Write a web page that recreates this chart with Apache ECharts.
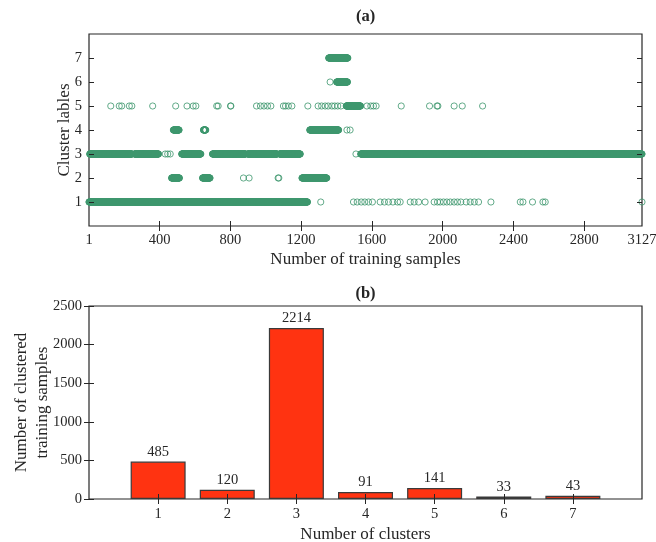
<!DOCTYPE html>
<html>
<head>
<meta charset="utf-8">
<title>Cluster labels of training samples</title>
<script src="https://cdn.jsdelivr.net/npm/echarts@6/dist/echarts.min.js"></script>
<style>
  html, body { margin: 0; padding: 0; background: #fff; }
  #chart { width: 656px; height: 542px; }
</style>
</head>
<body>
<div id="chart"></div>
<script>
// ---- (a) cluster label of every training sample --------------------------
// Each entry is a single sample index or an inclusive [from, to] run of indices.
const cluster1 = [[1, 1236], 1311, 1496, 1517, 1540, 1560, 1581, 1603, 1647, 1671,
  1694, 1719, 1745, 1760, 1817, 1839, 1864, 1901, 1952, 1971, 1986, 2005, 2024,
  2043, 2065, 2084, 2103, 2133, 2156, 2179, 2203, 2273, 2439, 2454, 2508, 2567,
  2580, 3127];
const cluster2 = [[468, 512], [643, 685], 874, 906, 1070, 1074, [1205, 1345]];
const cluster3 = [[5, 244], [258, 394], 432, 446, 460, [525, 633], [699, 886],
  [898, 1064], [1078, 1195], 1510, [1537, 3127]];
const cluster4 = [[478, 510], [648, 661], [1249, 1412], 1459, 1477];
const cluster5 = [124, 172, 186, 229, 243, 361, 491, 555, 590, 605, 723, 731, 801,
  803, 948, 970, 990, 1010, 1029, 1100, 1112, 1128, 1148, 1238, 1296, 1316, 1336,
  1353, 1374, 1390, 1407, 1425, [1455, 1536], 1572, 1594, 1609, 1624, 1766, 1926,
  1968, 1973, 2065, 2111, 2226];
const cluster6 = [1364, [1401, 1462]];
const cluster7 = [[1356, 1464]];

const sampleCount = 3127;
const sampleTicks = [400, 800, 1200, 1600, 2000, 2400, 2800];
const sampleTickLabels = [1, 400, 800, 1200, 1600, 2000, 2400, 2800, 3127];
const labelTicks = [1, 2, 3, 4, 5, 6, 7];

// ---- (b) number of samples in each cluster -------------------------------
const clusterIds = [1, 2, 3, 4, 5, 6, 7];
const clusterCounts = [485, 120, 2214, 91, 141, 33, 43];

// ---------------------------------------------------------------------------
const FONT = '"Liberation Serif", "DejaVu Serif", serif';
const INK = '#262626';
const RING = '#3d976d';
const BAR = '#ff3311';

function expand(list) {
  const out = [];
  list.forEach(function (e) {
    if (Array.isArray(e)) { for (let i = e[0]; i <= e[1]; i++) out.push(i); }
    else out.push(e);
  });
  return out;
}

const plain = function (v) { return String(v); };

const labelLists = [cluster1, cluster2, cluster3, cluster4, cluster5, cluster6, cluster7];
const scatterSeries = labelLists.map(function (list, k) {
  return {
    type: 'scatter',
    name: 'cluster ' + (k + 1),
    xAxisIndex: 0, yAxisIndex: 0,
    data: expand(list).map(function (i) { return [i, k + 1]; }),
    symbol: 'circle',
    symbolSize: 6.2,
    clip: false,
    large: false,
    progressive: 0,
    itemStyle: { color: 'rgba(255,255,255,0)', borderColor: RING, borderWidth: 1 },
    z: 2
  };
});

const tickStyle = { show: true, inside: true, length: 5, lineStyle: { color: INK, width: 1 } };
const labelStyle = { color: INK, fontFamily: FONT, fontSize: 14.5, formatter: plain };
const nameStyle = { color: INK, fontFamily: FONT, fontSize: 17 };
const hidden = { axisLine: { show: false }, splitLine: { show: false }, axisLabel: { show: false } };

const option = {
  animation: false,
  backgroundColor: '#fff',
  grid: [
    { left: 89, right: 14, top: 34, height: 192, show: true, borderColor: INK, borderWidth: 1.2,
      backgroundColor: 'transparent', containLabel: false, outerBoundsMode: 'none' },
    { left: 89, right: 14, top: 306, height: 193, show: true, borderColor: INK, borderWidth: 1.2,
      backgroundColor: 'transparent', containLabel: false, outerBoundsMode: 'none' }
  ],
  graphic: [
    { type: 'text', x: 365.5, y: 17, style: { text: '(a)', fontFamily: FONT, fontSize: 16.5, fontWeight: 'bold', fill: INK, align: 'center', verticalAlign: 'middle' } },
    { type: 'text', x: 365.5, y: 294, style: { text: '(b)', fontFamily: FONT, fontSize: 16.5, fontWeight: 'bold', fill: INK, align: 'center', verticalAlign: 'middle' } }
  ],
  xAxis: [
    {
      gridIndex: 0, type: 'value', min: 1, max: sampleCount, position: 'bottom', z: 10,
      axisLine: { show: false }, splitLine: { show: false },
      axisTick: Object.assign({}, tickStyle, { customValues: sampleTicks }),
      axisLabel: Object.assign({}, labelStyle, { customValues: sampleTickLabels, margin: 7, showMinLabel: true, showMaxLabel: true }),
      name: 'Number of training samples', nameLocation: 'middle', nameGap: 25, nameMoveOverlap: false,
      nameTextStyle: nameStyle
    },
    Object.assign({
      gridIndex: 0, type: 'value', min: 1, max: sampleCount, position: 'top', z: 10,
      axisTick: Object.assign({}, tickStyle, { customValues: sampleTicks })
    }, hidden),
    {
      gridIndex: 1, type: 'value', min: 0, max: 8, interval: 1, position: 'bottom', z: 10,
      axisLine: { show: false }, splitLine: { show: false },
      axisTick: Object.assign({}, tickStyle, { customValues: clusterIds }),
      axisLabel: Object.assign({}, labelStyle, { customValues: clusterIds, margin: 8 }),
      name: 'Number of clusters', nameLocation: 'middle', nameGap: 27, nameMoveOverlap: false,
      nameTextStyle: nameStyle
    },
    Object.assign({
      gridIndex: 1, type: 'value', min: 0, max: 8, interval: 1, position: 'top', z: 10,
      axisTick: Object.assign({}, tickStyle, { customValues: clusterIds })
    }, hidden)
  ],
  yAxis: [
    {
      gridIndex: 0, type: 'value', min: 0, max: 8, position: 'left', z: 10,
      axisLine: { show: false }, splitLine: { show: false },
      axisTick: Object.assign({}, tickStyle, { customValues: labelTicks }),
      axisLabel: Object.assign({}, labelStyle, { customValues: labelTicks, margin: 7 }),
      name: 'Cluster lables', nameLocation: 'middle', nameGap: 16, nameRotate: 90, nameMoveOverlap: false,
      nameTextStyle: nameStyle
    },
    Object.assign({
      gridIndex: 0, type: 'value', min: 0, max: 8, position: 'right', z: 10,
      axisTick: Object.assign({}, tickStyle, { customValues: labelTicks })
    }, hidden),
    {
      gridIndex: 1, type: 'value', min: 0, max: 2500, interval: 500, position: 'left', z: 10,
      axisLine: { show: false }, splitLine: { show: false },
      axisTick: tickStyle,
      axisLabel: Object.assign({}, labelStyle, { margin: 7 }),
      name: 'Number of clustered\ntraining samples', nameLocation: 'middle', nameGap: 36, nameRotate: 90,
      nameMoveOverlap: false,
      nameTextStyle: Object.assign({}, nameStyle, { lineHeight: 21 })
    },
    Object.assign({
      gridIndex: 1, type: 'value', min: 0, max: 2500, interval: 500, position: 'right', z: 10,
      axisTick: tickStyle
    }, hidden)
  ],
  series: scatterSeries.concat([
    {
      type: 'bar',
      name: 'clustered samples',
      xAxisIndex: 2, yAxisIndex: 2,
      data: clusterIds.map(function (c, i) { return [c, clusterCounts[i]]; }),
      barWidth: 55,
      itemStyle: { color: BAR, borderColor: '#3a3a3a', borderWidth: 1.2 },
      label: {
        show: true, position: 'top', distance: 2,
        formatter: function (p) { return String(p.value[1]); },
        color: INK, fontFamily: FONT, fontSize: 14.5
      },
      z: 2
    }
  ])
};

const chart = echarts.init(document.getElementById('chart'), null, { renderer: 'canvas' });
chart.setOption(option);
</script>
</body>
</html>
